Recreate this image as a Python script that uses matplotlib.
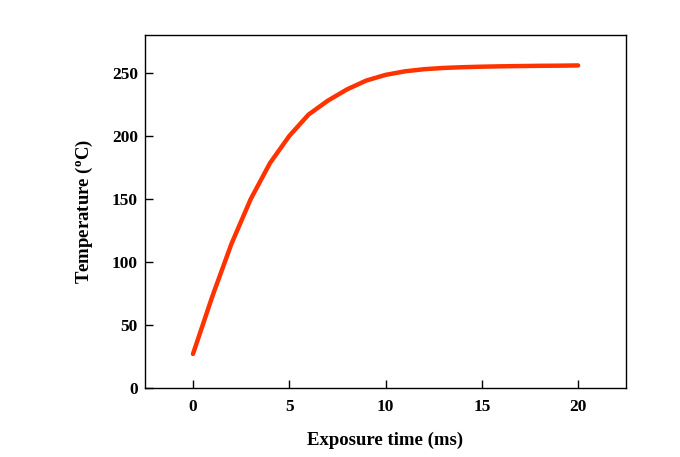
import matplotlib
matplotlib.use("Agg")
import matplotlib.pyplot as plt

# exposure time (ms) and temperature (C)
time_ms = [0, 1, 2, 3, 4, 5, 6, 7, 8, 9, 10, 11, 12, 13, 14, 15, 16, 17, 18, 19, 20]
temp_c = [27, 72.5, 114.5, 150, 178.5, 200, 217, 228, 237, 244, 248.5, 251.3,
          253, 254, 254.6, 255, 255.3, 255.5, 255.7, 255.8, 256]
x_ticks = [0, 5, 10, 15, 20]
y_ticks = [0, 50, 100, 150, 200, 250]

plt.rcParams['font.family'] = 'Liberation Serif'
plt.rcParams['font.weight'] = 'bold'
plt.rcParams['mathtext.fontset'] = 'custom'
plt.rcParams['mathtext.rm'] = 'Liberation Serif:bold'
plt.rcParams['mathtext.bf'] = 'Liberation Serif:bold'

fig = plt.figure(figsize=(6.8, 4.57), dpi=100)
ax = fig.add_axes([0.213, 0.151, 0.708, 0.772])

ax.plot(time_ms, temp_c, color='#ff3300', lw=3.2, solid_capstyle='round')

ax.set_xlim(-2.5, 22.5)
ax.set_ylim(0, 280)
ax.set_xticks(x_ticks)
ax.set_yticks(y_ticks)
ax.tick_params(direction='in', length=6, width=1, labelsize=12.5)
ax.tick_params(axis='x', pad=8)
ax.tick_params(axis='y', pad=5)
for lab in ax.get_xticklabels() + ax.get_yticklabels():
    lab.set_fontweight('bold')
for s in ax.spines.values():
    s.set_linewidth(1)

ax.set_xlabel('Exposure time (ms)', fontsize=13.5, fontweight='bold', labelpad=12)
ax.set_ylabel(r'Temperature ($\mathrm{^{o}}$C)', fontsize=13.5, fontweight='bold', labelpad=12)

fig.savefig('out.png', dpi=100)
